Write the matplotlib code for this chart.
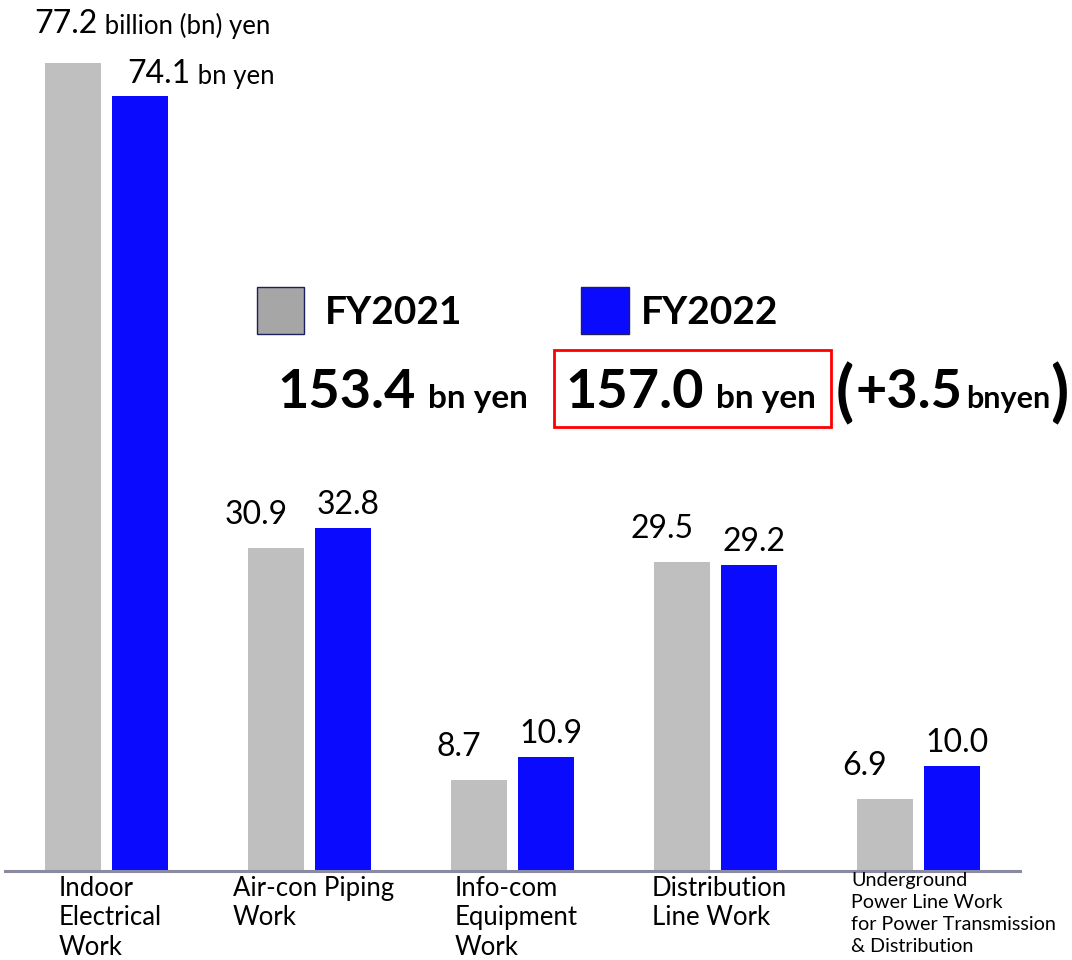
import matplotlib.pyplot as plt
from matplotlib.patches import Rectangle

plt.rcParams['font.family'] = ['Lato', 'DejaVu Sans']

categories = ["Indoor\nElectrical\nWork", "Air-con Piping\nWork", "Info-com\nEquipment\nWork",
              "Distribution\nLine Work",
              "Underground\nPower Line Work\nfor Power Transmission\n& Distribution"]
fy2021 = [77.2, 30.9, 8.7, 29.5, 6.9]
fy2022 = [74.1, 32.8, 10.9, 29.2, 10.0]
series_names = ["FY2021", "FY2022"]
totals = ["153.4", "157.0"]
diff = "+3.5"

W, H = 1072, 960
fig = plt.figure(figsize=(W / 100, H / 100), dpi=100)
ax = fig.add_axes([5 / W, (H - 871) / H, 1015 / W, 837 / H])

gray = "#bfbfbf"
blue = "#0a0aff"
x = list(range(len(categories)))
bw = 0.28
off = 0.165
xg = [i - off for i in x]
xb = [i + off for i in x]
ax.bar(xg, fy2021, width=bw, color=gray)
ax.bar(xb, fy2022, width=bw, color=blue)

ax.set_xlim(-0.5, 4.5)
ax.set_ylim(0, 80)
for s in ["top", "right", "left"]:
    ax.spines[s].set_visible(False)
ax.spines["bottom"].set_color("#8a8aa0")
ax.spines["bottom"].set_linewidth(2.2)
ax.set_yticks([])
ax.set_xticks([])

# value labels
for i in range(len(categories)):
    if i == 0:
        t = ax.annotate(f"{fy2021[i]:.1f}", (xg[i] - bw / 2, fy2021[i]), xytext=(-10, 30),
                        textcoords="offset pixels", ha="left", va="baseline", fontsize=23,
                        annotation_clip=False)
        ax.annotate(" billion (bn) yen", (1, 0), xycoords=t, ha="left", va="bottom",
                    fontsize=18.5, annotation_clip=False)
        t = ax.annotate(f"{fy2022[i]:.1f}", (xb[i] - bw / 2, fy2022[i]), xytext=(16, 13),
                        textcoords="offset pixels", ha="left", va="baseline", fontsize=23,
                        annotation_clip=False)
        ax.annotate(" bn yen", (1, 0), xycoords=t, ha="left", va="bottom",
                    fontsize=18.5, annotation_clip=False)
    else:
        ax.annotate(f"{fy2021[i]:.1f}", (xg[i], fy2021[i]), xytext=(-20, 24),
                    textcoords="offset pixels", ha="center", va="baseline", fontsize=23)
        ax.annotate(f"{fy2022[i]:.1f}", (xb[i], fy2022[i]), xytext=(5, 14),
                    textcoords="offset pixels", ha="center", va="baseline", fontsize=23)

# category labels
for i, c in enumerate(categories):
    if i == 4:
        ax.annotate(c, (x[i], 0), xytext=(35, -1), textcoords="offset pixels", ha="center",
                    va="top", multialignment="left", fontsize=14.2, linespacing=1.36,
                    annotation_clip=False)
    else:
        ax.annotate(c, (x[i], 0), xytext=(4, -5), textcoords="offset pixels", ha="center",
                    va="top", multialignment="left", fontsize=18.5, linespacing=1.22,
                    annotation_clip=False)


def px(xp, yp):
    return xp / W, 1 - yp / H


# legend squares
fig.patches.append(Rectangle(px(257, 334), 47 / W, 47 / H, transform=fig.transFigure,
                             facecolor="#a6a6a6", edgecolor="#1f1f5a", linewidth=1))
fig.patches.append(Rectangle(px(581, 334), 48 / W, 47 / H, transform=fig.transFigure,
                             facecolor=blue, edgecolor="#1f1f5a", linewidth=1))
fig.text(*px(325, 324), series_names[0], fontsize=28, fontweight="bold", va="baseline")
fig.text(*px(641, 324), series_names[1], fontsize=28, fontweight="bold", va="baseline")

# totals row
base = 408
fig.text(*px(277, base), totals[0], fontsize=39, fontweight="bold", va="baseline")
fig.text(*px(428, base), "bn yen", fontsize=24, fontweight="bold", va="baseline")
fig.patches.append(Rectangle(px(554, 427), 277 / W, 77 / H, transform=fig.transFigure,
                             facecolor="none", edgecolor="#ff0000", linewidth=2))
fig.text(*px(565, base), totals[1], fontsize=39, fontweight="bold", va="baseline")
fig.text(*px(716, base), "bn yen", fontsize=24, fontweight="bold", va="baseline")
fig.text(*px(836, base + 6), "(", fontsize=48, fontweight="bold", va="baseline")
fig.text(*px(856, base), diff, fontsize=39, fontweight="bold", va="baseline")
fig.text(*px(966, base), "bnyen", fontsize=22, fontweight="bold", va="baseline")
fig.text(*px(1050, base + 6), ")", fontsize=48, fontweight="bold", va="baseline")

fig.savefig("out.png", dpi=100)
